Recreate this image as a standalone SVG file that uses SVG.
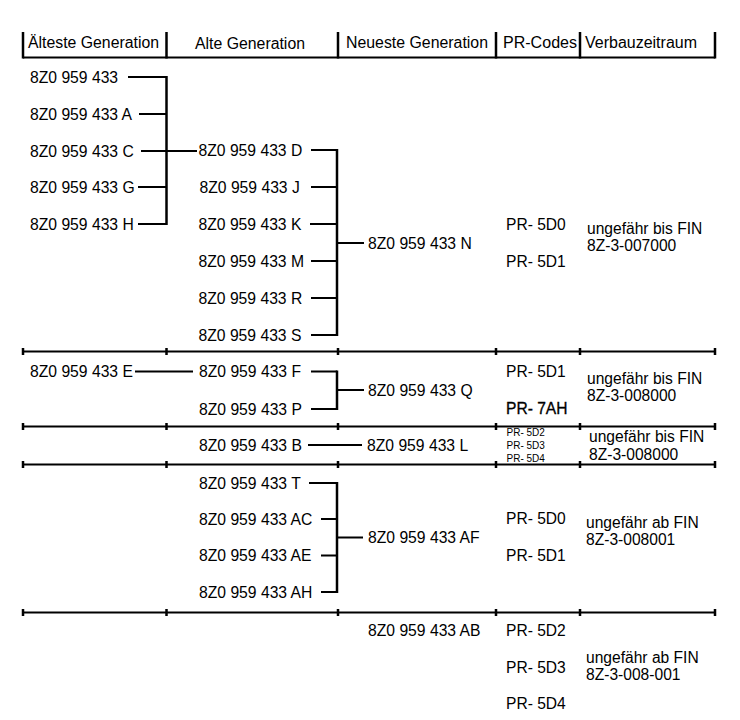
<svg xmlns="http://www.w3.org/2000/svg" width="740" height="720" viewBox="0 0 740 720">
<style>
text{font-family:"Liberation Sans",Arial,sans-serif;fill:#000}
.h{font-size:16px}
.m{font-size:15.7px}
.p{font-size:15.6px}
.f{font-size:15.6px}
.s{font-size:10px}
.ln{stroke:#000;stroke-width:2;fill:none}
.br{stroke:#000;stroke-width:2.5;fill:none}
.tk{stroke:#000;stroke-width:2.5;fill:none}
</style>
<rect width="740" height="720" fill="#fff"/>
<g id="grid">
<path class="ln" d="M23 57.5H715M23 351.5H715M23 426.5H715M23 464.5H715M23 612.5H715"/>
<path class="tk" d="M23 32V58.5M166.5 32V58.5M338 32V58.5M496 32V58.5M580 32V58.5M715 32V58.5"/>
<path class="tk" d="M23 348V355M166.5 348V355M338 348V355M496 348V355M580 348V355M715 348V355"/>
<path class="tk" d="M23 423V430M166.5 423V430M338 423V430M496 423V430M580 423V430M715 423V430"/>
<path class="tk" d="M23 461V468M166.5 461V468M338 461V468M496 461V468M580 461V468M715 461V468"/>
<path class="tk" d="M23 609V616M166.5 609V616M338 609V616M496 609V616M580 609V616M715 609V616"/>
</g>
<g id="headers">
<text class="h" x="28" y="48" textLength="131" lengthAdjust="spacingAndGlyphs">Älteste Generation</text>
<text class="h" x="195" y="49" textLength="110" lengthAdjust="spacingAndGlyphs">Alte Generation</text>
<text class="h" x="346" y="48" textLength="142" lengthAdjust="spacingAndGlyphs">Neueste Generation</text>
<text class="h" x="503" y="48" textLength="74" lengthAdjust="spacingAndGlyphs">PR-Codes</text>
<text class="h" x="585" y="48" textLength="112" lengthAdjust="spacingAndGlyphs">Verbauzeitraum</text>
</g>
<g id="connectors">
<path class="ln" d="M128 77H166.5M139 114H166.5M141 151H197M138 187H166.5M138 224H166.5"/>
<path class="br" d="M166.5 76V225"/>
<path class="ln" d="M311 150H337M311 187H337M310 224H337M311 261H337M311 298H337M311 335H337M337 243H364"/>
<path class="br" d="M337 149V336"/>
<path class="ln" d="M135 371.5H193M311 371.5H337M311 409H337M337 390H364"/>
<path class="br" d="M337 370.5V410"/>
<path class="ln" d="M308 445H362"/>
<path class="ln" d="M309 483H337M321 519H337M321 555.5H337M321 592H337M337 537.5H363"/>
<path class="br" d="M337 482V593"/>
</g>
<g id="n-433"><text class="m" x="30" y="82.5">8Z0 959 433</text></g>
<g id="n-433A"><text class="m" x="30" y="119.5">8Z0 959 433 A</text></g>
<g id="n-433C"><text class="m" x="30" y="156.5">8Z0 959 433 C</text></g>
<g id="n-433G"><text class="m" x="30" y="192.5">8Z0 959 433 G</text></g>
<g id="n-433H"><text class="m" x="30" y="229.5">8Z0 959 433 H</text></g>
<g id="n-433D"><text class="m" x="198.5" y="155.5">8Z0 959 433 D</text></g>
<g id="n-433J"><text class="m" x="199.5" y="192.5">8Z0 959 433 J</text></g>
<g id="n-433K"><text class="m" x="198.5" y="229.5">8Z0 959 433 K</text></g>
<g id="n-433M"><text class="m" x="198.5" y="266.5">8Z0 959 433 M</text></g>
<g id="n-433R"><text class="m" x="198.5" y="303.5">8Z0 959 433 R</text></g>
<g id="n-433S"><text class="m" x="198.5" y="340.5">8Z0 959 433 S</text></g>
<g id="n-433N"><text class="m" x="368" y="248.5">8Z0 959 433 N</text></g>
<g id="r1-pr"><text class="p" x="506" y="229.6">PR- 5D0</text><text class="p" x="506" y="266.6">PR- 5D1</text></g>
<g id="r1-fin"><text class="f" x="587" y="233.5">ungefähr bis FIN</text><text class="f" x="587" y="250.5">8Z-3-007000</text></g>
<g id="n-433E"><text class="m" x="30" y="377.2">8Z0 959 433 E</text></g>
<g id="n-433F"><text class="m" x="199" y="377.2">8Z0 959 433 F</text></g>
<g id="n-433P"><text class="m" x="199" y="414.5">8Z0 959 433 P</text></g>
<g id="n-433Q"><text class="m" x="368" y="395.5">8Z0 959 433 Q</text></g>
<g id="r2-pr"><text class="p" x="506" y="376.6">PR- 5D1</text><text class="p" x="506" y="413.6" stroke="#000" stroke-width="0.3">PR- 7AH</text></g>
<g id="r2-fin"><text class="f" x="587" y="383.5">ungefähr bis FIN</text><text class="f" x="587" y="400.5">8Z-3-008000</text></g>
<g id="n-433B"><text class="m" x="199" y="450.5">8Z0 959 433 B</text></g>
<g id="n-433L"><text class="m" x="367" y="450.5">8Z0 959 433 L</text></g>
<g id="r3-pr"><text class="s" x="506.5" y="435.5">PR- 5D2</text><text class="s" x="506.5" y="448.5">PR- 5D3</text><text class="s" x="506.5" y="461.5">PR- 5D4</text></g>
<g id="r3-fin"><text class="f" x="589" y="442">ungefähr bis FIN</text><text class="f" x="589" y="459.5">8Z-3-008000</text></g>
<g id="n-433T"><text class="m" x="199" y="488.5">8Z0 959 433 T</text></g>
<g id="n-433AC"><text class="m" x="199" y="524.5">8Z0 959 433 AC</text></g>
<g id="n-433AE"><text class="m" x="199" y="561">8Z0 959 433 AE</text></g>
<g id="n-433AH"><text class="m" x="199" y="597.5">8Z0 959 433 AH</text></g>
<g id="n-433AF"><text class="m" x="368" y="543.2">8Z0 959 433 AF</text></g>
<g id="r4-pr"><text class="p" x="506" y="523.6">PR- 5D0</text><text class="p" x="506" y="560.6">PR- 5D1</text></g>
<g id="r4-fin"><text class="f" x="586" y="528">ungefähr ab FIN</text><text class="f" x="586" y="545">8Z-3-008001</text></g>
<g id="n-433AB"><text class="m" x="368" y="635.5">8Z0 959 433 AB</text></g>
<g id="r5-pr"><text class="p" x="506" y="635.6">PR- 5D2</text><text class="p" x="506" y="672.6">PR- 5D3</text><text class="p" x="506" y="708.6">PR- 5D4</text></g>
<g id="r5-fin"><text class="f" x="586" y="663">ungefähr ab FIN</text><text class="f" x="586" y="680">8Z-3-008-001</text></g>
</svg>
